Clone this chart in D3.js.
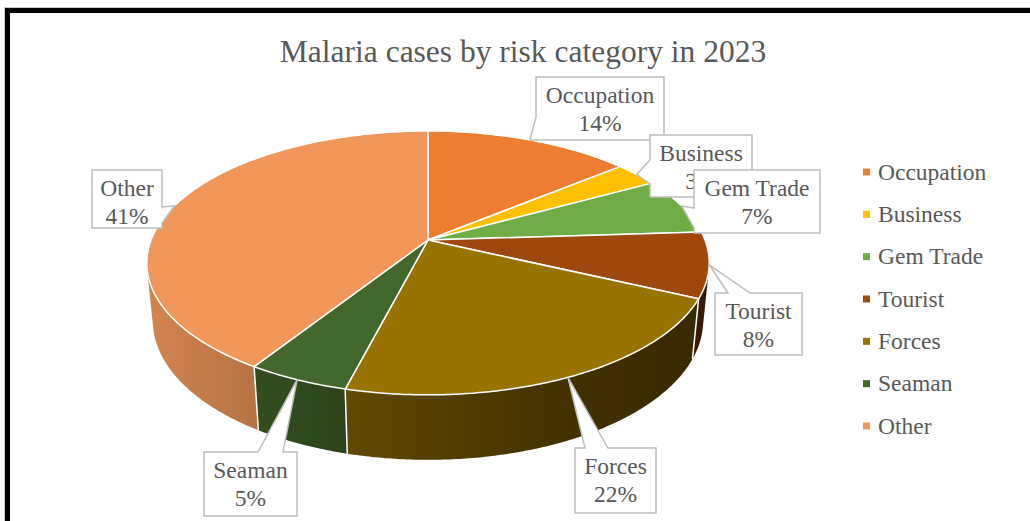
<!DOCTYPE html>
<html>
<head>
<meta charset="utf-8">
<script src="https://cdn.jsdelivr.net/npm/d3@7"></script>
<style>
  html, body { margin: 0; padding: 0; background: #fff; }
  svg { display: block; }
  text { font-family: "Liberation Serif", "Times New Roman", serif; fill: #595959; }
</style>
</head>
<body>
<svg id="chart" width="1030" height="521"></svg>
<script>
// Malaria cases by risk category, 2023 (share of cases, %)
const categories = ["Occupation", "Business", "Gem Trade", "Tourist", "Forces", "Seaman", "Other"];
const shares = [14, 3, 7, 8, 22, 5, 41];
const colors = ["#ED7D31", "#FFC000", "#70AD47", "#9E480E", "#997300", "#43682B", "#F1975A"];
const title = "Malaria cases by risk category in 2023";

// Callout boxes for the data labels: box [x, y, w, h], side the pointer leaves from, pointer base span
const calloutLayout = {
  "Occupation": { box: [536, 77, 128, 63], side: "left", base: [117, 140] },
  "Business":   { box: [650, 135, 102, 62], side: "left", base: [160, 184] },
  "Gem Trade":  { box: [694, 170, 126, 63], side: "left", base: [208, 228] },
  "Tourist":    { box: [715, 293, 87, 62],  side: "top",  base: [728, 750] },
  "Forces":     { box: [575, 448, 81, 65],  side: "top",  base: [585, 608] },
  "Seaman":     { box: [204, 452, 93, 64],  side: "top",  base: [258, 283] },
  "Other":      { box: [92, 170, 70, 58],   side: "right", base: [207, 223] }
};

const svg = d3.select("#chart");
const defs = svg.append("defs");

// Outer frame
svg.append("rect").attr("x", 4.5).attr("y", 7.5).attr("width", 1100).attr("height", 600)
  .attr("fill", "none").attr("stroke", "#c8c8c8").attr("stroke-width", 1);
svg.append("rect").attr("x", 7.5).attr("y", 10.5).attr("width", 1100).attr("height", 600)
  .attr("fill", "none").attr("stroke", "#000").attr("stroke-width", 5);

// Title
svg.append("text").attr("x", 523).attr("y", 62).attr("text-anchor", "middle")
  .style("font-size", "31.5px").text(title);

// ---- 3D pie projection ----
// Disk of radius r (camera distance = 1), viewed from elevation alpha with perspective.
const cx = 428, cy = 240;
const alpha = Math.asin(0.462);
const r = 0.196, f = 1413, thick = 0.0466;
const sa = Math.sin(alpha), ca = Math.cos(alpha);

function proj(theta, h) {
  const u = Math.sin(theta), v = -Math.cos(theta);
  const w = 1 - r * v * ca - h * sa;
  return [cx + f * r * u / w, cy + f * (r * v * sa - h * ca) / w];
}

// Front-facing wall range: v > r / cos(alpha)
const vMin = r / ca;
const thL = Math.acos(-vMin);             // right silhouette
const thR = 2 * Math.PI - thL;            // left silhouette

const pie = d3.pie().sort(null).value(d => d.value);
const data = categories.map((c, i) => ({ name: c, value: shares[i], color: colors[i] }));
const arcs = pie(data);
const total = d3.sum(shares);

function arcPoints(a0, a1, h) {
  const n = Math.max(2, Math.ceil((a1 - a0) / 0.01));
  return d3.range(n + 1).map(k => proj(a0 + (a1 - a0) * k / n, h));
}

// Wall shading across the pie width
const shade = d3.scaleLinear()
  .domain([147, 255, 300, 345, 480, 600, 710])
  .range([0.88, 0.76, 0.70, 0.64, 0.50, 0.41, 0.36]);

arcs.forEach((a, i) => {
  const g = defs.append("linearGradient").attr("id", "wall" + i)
    .attr("gradientUnits", "userSpaceOnUse")
    .attr("x1", 147).attr("x2", 710).attr("y1", 0).attr("y2", 0);
  const base = d3.rgb(a.data.color);
  shade.domain().forEach((x, k) => {
    const fct = shade.range()[k];
    g.append("stop").attr("offset", (x - 147) / (710 - 147))
      .attr("stop-color", d3.rgb(base.r * fct, base.g * fct, base.b * fct).formatHex());
  });
});

const line = d3.line();
const wallG = svg.append("g");
const topG = svg.append("g");

// Outer walls (visible part only)
arcs.forEach((a, i) => {
  const s = Math.max(a.startAngle, thL), e = Math.min(a.endAngle, thR);
  if (e <= s) return;
  const pts = arcPoints(s, e, 0).concat(arcPoints(s, e, -thick).reverse());
  wallG.append("path").attr("d", line(pts) + "Z").attr("fill", `url(#wall${i})`);
});
// Slice boundaries on the wall
arcs.forEach(a => {
  const t = a.startAngle;
  if (t > thL && t < thR) {
    wallG.append("path").attr("d", line([proj(t, 0), proj(t, -thick)]))
      .attr("stroke", "#fff").attr("stroke-width", 1.5).attr("fill", "none");
  }
});

// Top faces
arcs.forEach(a => {
  const pts = [proj(0, 0).map((_, k) => k === 0 ? cx : cy)]
    .concat(arcPoints(a.startAngle, a.endAngle, 0));
  topG.append("path").attr("d", line(pts) + "Z")
    .attr("fill", a.data.color).attr("stroke", "#fff").attr("stroke-width", 1.5)
    .attr("stroke-linejoin", "round");
});

// ---- Data label callouts ----
function calloutPath(L, anchor) {
  const [x, y, w, h] = L.box, [b0, b1] = L.base, [ax, ay] = anchor;
  const x2 = x + w, y2 = y + h;
  switch (L.side) {
    case "left":
      return `M${x},${y}H${x2}V${y2}H${x}V${b1}L${ax},${ay}L${x},${b0}Z`;
    case "right":
      return `M${x},${y}H${x2}V${b0}L${ax},${ay}L${x2},${b1}V${y2}H${x}Z`;
    case "top":
      return `M${x},${y}H${b0}L${ax},${ay}L${b1},${y}H${x2}V${y2}H${x}Z`;
    default:
      return `M${x},${y}H${x2}V${y2}H${b1}L${ax},${ay}L${b0},${y2}H${x}Z`;
  }
}

const labG = svg.append("g");
arcs.forEach(a => {
  const L = calloutLayout[a.data.name];
  const mid = (a.startAngle + a.endAngle) / 2;
  const anchor = proj(mid, 0);
  const g = labG.append("g");
  g.append("path").attr("d", calloutPath(L, anchor))
    .attr("fill", "#fff").attr("stroke", "#bfbfbf").attr("stroke-width", 1.5);
  const [x, y, w] = L.box;
  g.append("text").attr("x", x + w / 2).attr("y", y + 26).attr("text-anchor", "middle")
    .style("font-size", "23.5px").text(a.data.name);
  g.append("text").attr("x", x + w / 2).attr("y", y + 54).attr("text-anchor", "middle")
    .style("font-size", "23.5px").text(Math.round(a.data.value / total * 100) + "%");
});

// ---- Legend ----
const legY = d3.scalePoint().domain(categories).range([172, 426]);
const leg = svg.append("g");
categories.forEach((c, i) => {
  const yc = legY(c);
  leg.append("rect").attr("x", 863).attr("y", yc - 3.5).attr("width", 7).attr("height", 7)
    .attr("fill", colors[i]);
  leg.append("text").attr("x", 878).attr("y", yc + 7.5)
    .style("font-size", "23.5px").text(c);
});
</script>
</body>
</html>
